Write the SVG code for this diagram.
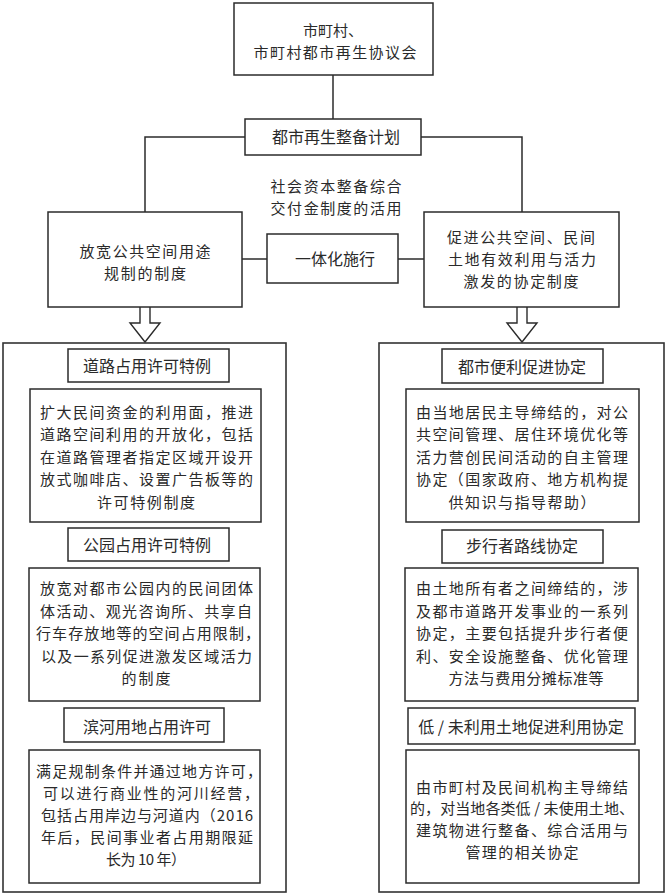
<svg xmlns="http://www.w3.org/2000/svg" width="666" height="894" viewBox="0 0 666 894">
<style>
.b{fill:#fff;stroke:#2b2b2b;stroke-width:1.5}
.p{fill:#fff;stroke:#333;stroke-width:1.6}
.c{fill:none;stroke:#2b2b2b;stroke-width:1.5}
.a{fill:#fff;stroke:#2b2b2b;stroke-width:1.4;stroke-linejoin:miter}
text{font-family:"Noto Sans CJK SC","Noto Sans",sans-serif;font-size:15px;fill:#2a2a2a}
.h{font-size:16px}
.m{text-anchor:middle}
</style>
<rect width="666" height="894" fill="#fff"/>
<g id="connectors">
<line class="c" x1="333" y1="75" x2="333" y2="119"/>
<polyline class="c" points="245,137 145,137 145,212"/>
<polyline class="c" points="421,137 522,137 522,212"/>
<line class="c" x1="242" y1="259" x2="267" y2="259"/>
<line class="c" x1="398" y1="259" x2="424" y2="259"/>
<path class="a" d="M140,306 L140,323 L130,323 L145,342 L160,323 L150,323 L150,306"/>
<path class="a" d="M517,306 L517,323 L507,323 L522,342 L537,323 L527,323 L527,306"/>
</g>
<g id="council">
<rect class="b" x="234" y="3" width="199" height="72" stroke-width="2"/>
<text class="m" x="333" y="35.5" textLength="60" lengthAdjust="spacing">市町村、</text>
<text class="m" x="335" y="57.5" textLength="163" lengthAdjust="spacing">市町村都市再生协议会</text>
</g>
<g id="plan">
<rect class="b" x="245" y="119" width="176" height="36"/>
<text class="m h" x="336" y="143">都市再生整备计划</text>
</g>
<g id="subsidy">
<text class="m" x="336" y="192" textLength="131" lengthAdjust="spacing">社会资本整备综合</text>
<text class="m" x="336" y="214" textLength="131" lengthAdjust="spacing">交付金制度的活用</text>
</g>
<g id="left-system">
<rect class="b" x="48" y="212" width="194" height="95"/>
<text class="m" x="145" y="256.5" textLength="131" lengthAdjust="spacing">放宽公共空间用途</text>
<text class="m" x="145" y="278.5" textLength="82" lengthAdjust="spacing">规制的制度</text>
</g>
<g id="integrated">
<rect class="b" x="267" y="234" width="131" height="49"/>
<text class="m h" x="335" y="265">一体化施行</text>
</g>
<g id="right-system">
<rect class="b" x="424" y="212" width="195" height="95"/>
<text class="m" x="521" y="242.5" textLength="148" lengthAdjust="spacing">促进公共空间、民间</text>
<text class="m" x="522" y="264.5" textLength="148" lengthAdjust="spacing">土地有效利用与活力</text>
<text class="m" x="521" y="286.5" textLength="115" lengthAdjust="spacing">激发的协定制度</text>
</g>
<g id="left-panel">
<rect class="p" x="3" y="343" width="283" height="549"/>
<g id="road-title">
<rect class="b" x="68" y="349" width="161" height="33"/>
<text class="m h" x="147" y="372">道路占用许可特例</text>
</g>
<g id="road-body">
<rect class="b" x="30" y="389" width="231" height="133"/>
<text x="40" y="417.5" textLength="213" lengthAdjust="spacing">扩大民间资金的利用面，推进</text>
<text x="40" y="440" textLength="213" lengthAdjust="spacing">道路空间利用的开放化，包括</text>
<text x="40" y="462.5" textLength="213" lengthAdjust="spacing">在道路管理者指定区域开设开</text>
<text x="40" y="485" textLength="213" lengthAdjust="spacing">放式咖啡店、设置广告板等的</text>
<text class="m" x="146" y="507.5" textLength="98" lengthAdjust="spacing">许可特例制度</text>
</g>
<g id="park-title">
<rect class="b" x="68" y="528" width="161" height="33"/>
<text class="m h" x="147" y="551">公园占用许可特例</text>
</g>
<g id="park-body">
<rect class="b" x="29" y="568" width="231" height="133"/>
<text x="40" y="594" textLength="213" lengthAdjust="spacing">放宽对都市公园内的民间团体</text>
<text x="40" y="616.5" textLength="212" lengthAdjust="spacing">体活动、观光咨询所、共享自</text>
<text x="36" y="639" textLength="224" lengthAdjust="spacing">行车存放地等的空间占用限制，</text>
<text x="41" y="661.5" textLength="211" lengthAdjust="spacing">以及一系列促进激发区域活力</text>
<text class="m" x="146" y="684" textLength="49" lengthAdjust="spacing">的制度</text>
</g>
<g id="river-title">
<rect class="b" x="64" y="708" width="160" height="34"/>
<text class="m h" x="147" y="733">滨河用地占用许可</text>
</g>
<g id="river-body">
<rect class="b" x="29" y="750" width="231" height="133"/>
<text x="36" y="777" textLength="226" lengthAdjust="spacing">满足规制条件并通过地方许可，</text>
<text x="43" y="799" textLength="216" lengthAdjust="spacing">可以进行商业性的河川经营，</text>
<text x="41" y="821" textLength="212" lengthAdjust="spacing">包括占用岸边与河道内（2016</text>
<text x="41" y="843" textLength="212" lengthAdjust="spacing">年后，民间事业者占用期限延</text>
<text class="m" x="146" y="865" textLength="80" lengthAdjust="spacing">长为 10 年）</text>
</g>
</g>
<g id="right-panel">
<rect class="p" x="379" y="343" width="285" height="549"/>
<g id="convenience-title">
<rect class="b" x="442" y="349" width="161" height="34"/>
<text class="m h" x="522" y="373">都市便利促进协定</text>
</g>
<g id="convenience-body">
<rect class="b" x="406" y="389" width="233" height="133"/>
<text x="416" y="417.5" textLength="212" lengthAdjust="spacing">由当地居民主导缔结的，对公</text>
<text x="416" y="440" textLength="212" lengthAdjust="spacing">共空间管理、居住环境优化等</text>
<text x="416" y="462.5" textLength="212" lengthAdjust="spacing">活力营创民间活动的自主管理</text>
<text x="416" y="485" textLength="212" lengthAdjust="spacing">协定（国家政府、地方机构提</text>
<text class="m" x="522" y="507.5" textLength="147" lengthAdjust="spacing">供知识与指导帮助）</text>
</g>
<g id="pedestrian-title">
<rect class="b" x="442" y="530" width="161" height="33"/>
<text class="m h" x="522" y="552">步行者路线协定</text>
</g>
<g id="pedestrian-body">
<rect class="b" x="405" y="568" width="233" height="133"/>
<text x="416" y="594" textLength="212" lengthAdjust="spacing">由土地所有者之间缔结的，涉</text>
<text x="416" y="616.5" textLength="212" lengthAdjust="spacing">及都市道路开发事业的一系列</text>
<text x="416" y="639" textLength="212" lengthAdjust="spacing">协定，主要包括提升步行者便</text>
<text x="416" y="661.5" textLength="212" lengthAdjust="spacing">利、安全设施整备、优化管理</text>
<text class="m" x="526" y="684" textLength="155" lengthAdjust="spacing">方法与费用分摊标准等</text>
</g>
<g id="unused-title">
<rect class="b" x="408" y="708" width="227" height="36"/>
<text class="m h" x="521" y="733">低 / 未利用土地促进利用协定</text>
</g>
<g id="unused-body">
<rect class="b" x="406" y="750" width="233" height="133"/>
<text x="416" y="792.5" textLength="212" lengthAdjust="spacing">由市町村及民间机构主导缔结</text>
<text x="410" y="814" textLength="224" lengthAdjust="spacing">的，对当地各类低 / 未使用土地、</text>
<text x="416" y="836" textLength="212" lengthAdjust="spacing">建筑物进行整备、综合活用与</text>
<text class="m" x="522" y="857.5" textLength="113" lengthAdjust="spacing">管理的相关协定</text>
</g>
</g>
</svg>
